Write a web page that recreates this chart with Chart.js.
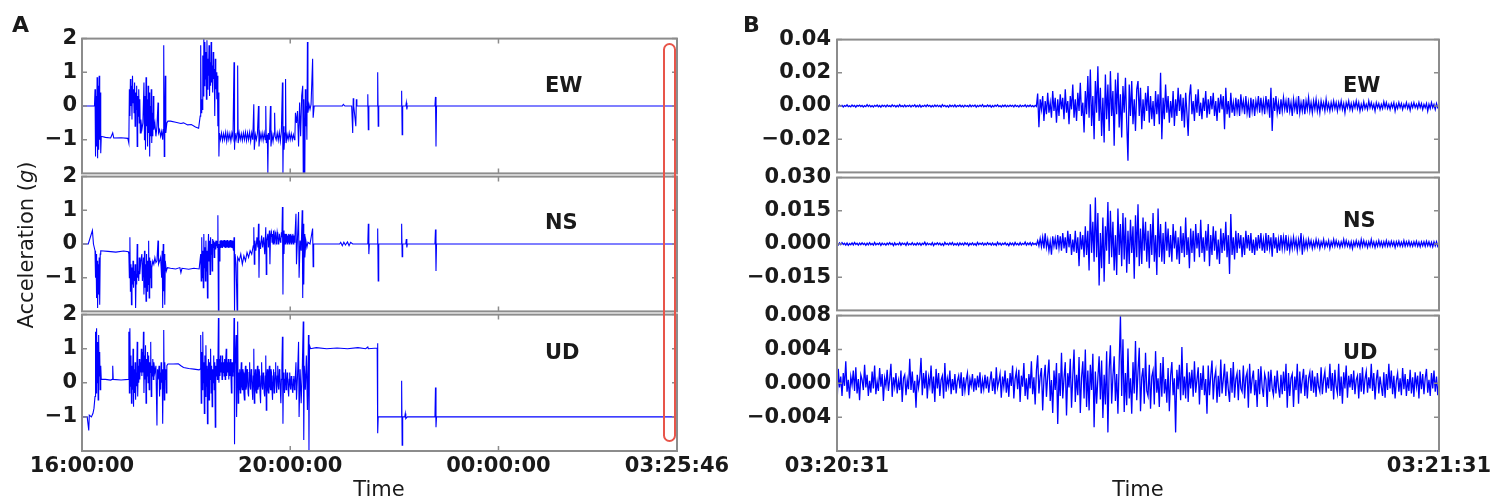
<!DOCTYPE html>
<html lang="en">
<head>
<meta charset="UTF-8">
<title>Acceleration records</title>
<script src="https://cdn.jsdelivr.net/npm/chart.js"></script>
<style>
  body { margin: 0; width: 1500px; height: 501px; background: #fff; position: relative; overflow: hidden;
         font-family: "DejaVu Sans", sans-serif; color: #1a1a1a; }
  canvas { position: absolute; }
  .txt { position: absolute; line-height: 1; white-space: nowrap; }
  .panel { font-size: 22px; font-weight: bold; }
  .comp { font-size: 21px; font-weight: bold; }
  .axis { font-size: 21px; }
  #redbox { position: absolute; left: 663px; top: 43px; width: 13px; height: 399px; box-sizing: border-box;
            border: 2.5px solid #e8554a; border-radius: 7px; }
</style>
</head>
<body>
<canvas id="ewA" width="740" height="170" style="left:0;top:21px"></canvas>
<canvas id="nsA" width="740" height="170" style="left:0;top:159px"></canvas>
<canvas id="udA" width="740" height="204" style="left:0;top:297px"></canvas>
<canvas id="ewB" width="760" height="170" style="left:740px;top:21px"></canvas>
<canvas id="nsB" width="760" height="170" style="left:740px;top:159px"></canvas>
<canvas id="udB" width="760" height="204" style="left:740px;top:297px"></canvas>

<div class="txt panel" style="left:12px;top:14px">A</div>
<div class="txt panel" style="left:743px;top:14px">B</div>
<div class="txt comp" style="left:545px;top:75px">EW</div>
<div class="txt comp" style="left:545px;top:212px">NS</div>
<div class="txt comp" style="left:545px;top:342px">UD</div>
<div class="txt comp" style="left:1343px;top:75px">EW</div>
<div class="txt comp" style="left:1343px;top:210px">NS</div>
<div class="txt comp" style="left:1343px;top:342px">UD</div>
<div class="txt axis" style="left:379px;top:479px;transform:translateX(-50%)">Time</div>
<div class="txt axis" style="left:1138px;top:479px;transform:translateX(-50%)">Time</div>
<div class="txt axis" style="left:26px;top:245px;transform:translate(-50%,-50%) rotate(-90deg)">Acceleration (<i>g</i>)</div>
<div id="redbox"></div>

<script>
// Panel A: hours after 16:00:00, acceleration in g, [time, value]
const aXTicks = [0, 4, 8, 11.4294];
const aXLabels = ['16:00:00', '20:00:00', '00:00:00', '03:25:46'];
const aYTicks = [2, 1, 0, -1];
const aYLabels = ['2', '1', '0', '−1'];

const ewA = [
  [0,0],[0.24,0],[0.25,0.5],[0.26,-1.5],[0.27,0.3],[0.28,-1.2],[0.29,0.85],[0.30,-1.55],[0.31,0.6],[0.32,-1.3],[0.33,0.9],[0.34,-1.0],[0.35,0.4],[0.36,-1.4],[0.37,-0.9],
  [0.45,-0.93],[0.55,-0.95],[0.59,-0.8],[0.61,-0.95],[0.75,-0.94],[0.88,-0.96],
  [0.90,-1.1],[0.91,0.5],[0.92,-0.3],[0.93,0.8],[0.94,0.0],[0.95,0.6],[0.96,-0.4],[0.97,0.9],[0.98,0.1],[0.99,0.5],[1.00,-0.2],[1.01,0.7],[1.02,-0.6],[1.03,0.4],[1.04,-0.1],[1.05,0.6],[1.06,-1.2],[1.07,0.3],[1.08,-0.3],[1.09,0.5],[1.10,-0.5],[1.11,0.2],[1.12,-0.8],[1.13,-0.4],
  [1.15,-0.7],[1.17,-0.5],[1.19,0.7],[1.20,-1.0],[1.21,0.3],[1.22,-1.3],[1.23,0.85],[1.24,-0.6],[1.25,0.2],[1.26,-1.2],[1.27,0.6],[1.28,-0.8],[1.29,0.4],[1.30,-1.5],[1.31,0.0],[1.32,-0.9],[1.33,0.5],[1.34,-1.1],[1.35,-0.2],[1.36,-0.9],[1.37,0.3],[1.38,-0.7],
  [1.40,-0.5],[1.42,-0.9],[1.44,-0.6],[1.46,0.1],[1.47,-0.8],[1.49,-0.7],[1.51,-0.9],[1.53,-0.75],[1.55,-1.0],[1.56,-0.7],[1.57,1.8],[1.58,-1.5],[1.59,-0.6],[1.60,0.9],[1.61,-0.8],[1.63,-0.5],[1.65,-0.45],
  [1.70,-0.45],[1.80,-0.48],[1.90,-0.52],[1.95,-0.5],[2.03,-0.56],[2.10,-0.55],[2.18,-0.62],[2.24,-0.66],
  [2.27,-0.3],[2.28,1.8],[2.29,-0.2],[2.30,0.2],[2.31,-0.1],[2.32,1.5],[2.33,0.3],[2.34,2.0],[2.35,0.6],[2.36,1.9],[2.37,0.8],[2.38,1.6],[2.39,0.2],[2.40,1.95],[2.41,0.5],[2.42,1.4],[2.43,0.9],[2.44,1.8],[2.45,0.3],[2.46,1.3],[2.47,0.6],[2.48,1.9],[2.49,0.7],[2.50,1.2],[2.51,0.4],[2.52,1.6],[2.53,0.8],[2.54,1.1],[2.55,-0.3],[2.56,1.4],[2.57,0.5],[2.58,1.0],[2.59,0.2],[2.60,0.9],[2.61,-0.6],[2.62,0.4],[2.63,-1.5],[2.64,-0.8],
  [2.66,-1.0],[2.68,-0.8],[2.70,-1.02],[2.72,-0.82],[2.74,-1.0],[2.76,-0.78],[2.78,-1.05],[2.80,-0.8],[2.82,-1.0],[2.84,-0.82],[2.86,-1.04],[2.88,-0.8],[2.90,-0.95],[2.92,1.3],[2.93,-1.3],[2.94,-0.8],[2.96,-1.0],[2.98,-0.8],[2.99,1.2],[3.00,-1.1],[3.02,-0.8],[3.04,-1.0],[3.06,-0.82],[3.08,-1.02],[3.10,-0.8],[3.12,-1.0],[3.14,-0.78],[3.16,-1.03],[3.18,-0.8],[3.20,-1.0],[3.22,-0.78],[3.24,-1.05],[3.26,-0.8],[3.28,-1.0],
  [3.30,0.05],[3.31,-1.3],[3.33,-0.85],[3.35,-1.0],[3.37,-0.8],[3.39,0.0],[3.40,-1.2],[3.42,-0.82],[3.44,-1.0],[3.46,-0.8],[3.48,-1.02],[3.50,-0.8],[3.52,-1.0],[3.53,0.0],[3.54,-1.1],[3.56,-0.85],[3.57,-2.0],[3.58,-0.8],[3.60,-1.0],[3.62,0.0],[3.63,-1.2],[3.65,-0.85],[3.67,-1.05],[3.69,-0.8],[3.70,-0.2],[3.71,-0.9],[3.73,-1.0],[3.75,-0.8],[3.77,-1.02],[3.79,-0.78],[3.81,-1.05],[3.83,-0.75],
  [3.85,0.7],[3.86,-2.0],[3.87,-0.6],[3.88,-1.3],[3.90,-0.8],[3.91,0.8],[3.92,-1.1],[3.94,-0.85],[3.96,-1.0],[3.98,-0.8],[4.00,-1.0],[4.02,-0.82],[4.04,-1.0],[4.06,-0.85],[4.08,-1.0],[4.09,-0.9],
  [4.10,-0.2],[4.12,-0.5],[4.14,-0.15],[4.16,-1.2],[4.18,0.1],[4.20,-0.9],[4.22,0.3],[4.24,0.6],[4.25,-2.0],[4.26,0.2],[4.28,-2.0],[4.29,0.5],[4.30,-0.6],[4.31,0.0],[4.32,-1.0],[4.33,1.9],[4.34,-0.2],[4.36,0.05],[4.38,-0.1],[4.40,0.05],[4.43,1.4],[4.44,-0.35],[4.46,0.0],
  [5.00,0.0],[5.02,0.05],[5.05,0.0],[5.18,0.0],[5.20,-0.8],[5.21,0.23],[5.22,0.0],[5.26,-0.6],[5.27,0.2],[5.28,0.0],[5.48,0.0],[5.49,0.35],[5.50,-0.7],[5.51,0.0],[5.67,0.0],[5.68,1.0],[5.69,-0.6],[5.70,0.0],
  [6.13,0.0],[6.14,0.45],[6.15,-0.85],[6.16,0.0],[6.22,0.0],[6.23,0.1],[6.24,-0.1],[6.25,0.0],[6.78,0.0],[6.79,0.27],[6.80,-1.2],[6.81,0.0],[11.43,0.0]
];

const nsA = [
  [0,0],[0.12,0],[0.20,0.4],[0.22,0.0],[0.25,-0.2],[0.26,-1.0],[0.27,-0.3],[0.28,-1.6],[0.29,-0.5],[0.30,-1.9],[0.31,-0.6],[0.32,-1.5],[0.33,-0.4],[0.34,-1.8],[0.35,-0.3],[0.36,-0.2],
  [0.50,-0.22],[0.65,-0.24],[0.80,-0.21],[0.89,-0.23],
  [0.90,-0.3],[0.91,-1.0],[0.92,0.2],[0.93,-1.4],[0.94,-0.6],[0.95,-1.8],[0.96,-0.7],[0.97,-1.2],[0.98,-0.5],[0.99,-1.3],[1.00,-0.8],[1.01,-1.1],[1.02,-0.6],[1.03,-1.9],[1.04,-0.9],[1.05,-1.2],[1.06,0.0],[1.07,-1.0],[1.08,-0.8],[1.09,-1.1],[1.10,-0.4],[1.11,-0.9],[1.13,-0.5],
  [1.15,-0.3],[1.16,-1.1],[1.18,-0.4],[1.19,-1.5],[1.20,-0.2],[1.21,-1.3],[1.22,-0.6],[1.23,-1.7],[1.24,-0.3],[1.25,-1.4],[1.26,-0.5],[1.27,-1.2],[1.28,0.1],[1.29,-1.6],[1.30,-0.4],[1.31,-1.0],[1.32,-0.5],[1.33,-1.3],[1.34,-0.7],
  [1.36,-0.5],[1.38,-0.6],[1.40,-0.4],[1.42,-0.55],[1.44,-0.5],[1.46,0.1],[1.47,-0.6],[1.49,-0.5],[1.51,-0.4],[1.53,-1.0],[1.54,-0.2],[1.55,-1.9],[1.56,0.0],[1.57,-1.4],[1.58,-0.3],[1.59,-1.8],[1.60,-0.5],[1.62,-0.8],[1.64,-0.7],
  [1.70,-0.72],[1.80,-0.74],[1.88,-0.7],[1.90,-0.85],[1.92,-0.72],[2.05,-0.75],[2.15,-0.72],[2.25,-0.74],
  [2.28,-0.3],[2.29,-1.1],[2.30,0.2],[2.31,-1.0],[2.32,-0.2],[2.33,-1.3],[2.34,0.3],[2.35,-0.7],[2.36,-0.1],[2.37,-1.1],[2.38,0.1],[2.39,-0.8],[2.40,-0.2],[2.41,-1.6],[2.42,-0.3],[2.43,0.3],[2.44,-0.5],[2.45,0.1],[2.46,-0.9],[2.47,0.2],[2.48,-0.3],[2.49,0.0],[2.50,-0.8],
  [2.51,0.15],[2.52,-0.1],[2.53,0.1],[2.54,-0.4],[2.55,0.05],[2.56,-0.15],[2.57,0.1],[2.58,-0.05],[2.59,0.1],[2.60,-0.1],[2.61,0.85],[2.62,-2.0],[2.63,0.0],[2.64,-0.5],[2.65,0.1],[2.66,-0.1],[2.67,0.12],[2.68,-0.1],[2.69,0.1],[2.70,-0.12],[2.71,0.1],[2.72,-0.08],[2.73,0.12],[2.74,-0.1],[2.75,0.1],[2.76,-0.12],[2.77,0.1],[2.78,-0.1],[2.79,0.12],[2.80,-0.1],[2.81,0.08],[2.82,-0.12],[2.83,0.1],[2.84,-0.1],[2.85,0.12],[2.86,-0.1],[2.87,0.1],[2.88,-0.12],[2.89,0.1],[2.90,-0.1],[2.91,-0.2],
  [2.92,0.2],[2.93,-2.0],[2.94,-0.3],[2.96,-0.6],[2.98,-2.0],[2.99,-0.4],
  [3.02,-0.5],[3.05,-0.3],[3.08,-0.6],[3.11,-0.35],[3.14,-0.5],[3.17,-0.25],[3.20,-0.4],[3.23,-0.2],[3.26,-0.3],[3.29,-0.05],
  [3.30,0.5],[3.31,-0.6],[3.32,0.1],[3.34,-0.2],[3.36,0.2],[3.38,-0.1],[3.39,0.6],[3.40,-1.0],[3.41,0.1],[3.43,-0.15],[3.45,0.25],[3.47,-0.1],[3.49,0.2],[3.51,-0.3],[3.53,0.5],[3.54,-0.9],[3.55,0.1],[3.57,0.3],[3.58,-0.1],[3.60,0.4],[3.61,-0.6],[3.62,0.2],
  [3.64,0.35],[3.65,0.05],[3.66,0.3],[3.67,0.0],[3.68,0.4],[3.69,0.1],[3.70,0.05],[3.71,0.35],[3.72,0.3],[3.73,0.0],[3.74,0.1],[3.75,0.35],[3.76,0.25],[3.77,0.0],[3.78,0.05],[3.79,0.3],[3.80,0.3],[3.81,0.05],[3.82,0.1],[3.83,0.35],[3.84,0.2],[3.85,1.1],[3.86,-1.5],[3.87,0.4],[3.88,-0.3],[3.89,0.3],
  [3.90,0.0],[3.91,0.3],[3.92,0.05],[3.93,0.3],[3.94,0.0],[3.95,0.25],[3.96,0.05],[3.97,0.3],[3.98,0.0],[3.99,0.28],[4.00,0.05],[4.01,0.3],[4.02,0.0],[4.03,0.25],[4.04,0.05],[4.05,0.3],[4.06,0.0],[4.07,0.25],[4.08,0.05],[4.09,0.2],
  [4.11,0.9],[4.12,-0.6],[4.14,0.2],[4.16,0.95],[4.17,-1.0],[4.19,0.1],[4.21,-0.2],[4.23,1.0],[4.24,-1.6],[4.25,0.6],[4.26,-1.2],[4.27,0.3],[4.28,-0.4],[4.30,0.1],[4.32,-0.1],[4.34,0.05],[4.38,0.0],[4.43,0.46],[4.44,-0.67],[4.45,0.0],
  [4.95,0.0],[4.97,0.05],[5.00,-0.05],[5.03,0.05],[5.06,-0.03],[5.10,0.06],[5.13,-0.05],[5.16,0.05],[5.20,0.0],[5.49,0.0],[5.50,0.6],[5.51,-0.3],[5.52,0.0],[5.67,0.0],[5.68,0.46],[5.69,-1.1],[5.70,0.0],
  [6.13,0.0],[6.14,0.6],[6.15,-0.38],[6.16,0.0],[6.22,0.0],[6.23,0.15],[6.24,-0.1],[6.25,0.0],[6.78,0.0],[6.79,0.43],[6.80,-0.8],[6.81,0.0],[11.43,0.0]
];

const udA = [
  [0,-1.0],[0.10,-1.0],[0.13,-1.4],[0.14,-0.95],[0.18,-1.0],[0.21,-0.9],[0.23,-0.75],[0.25,-0.4],[0.26,1.5],[0.27,-0.3],[0.28,1.6],[0.29,0.0],[0.30,1.2],[0.31,-0.5],[0.32,1.4],[0.33,0.2],[0.34,0.9],[0.35,-0.2],[0.36,0.5],[0.37,0.1],
  [0.45,0.1],[0.55,0.08],[0.58,0.1],[0.59,0.5],[0.60,0.1],[0.75,0.08],[0.89,0.1],
  [0.90,1.5],[0.91,-0.3],[0.92,1.6],[0.93,-0.1],[0.94,0.8],[0.95,-0.6],[0.96,0.5],[0.97,-0.2],[0.98,1.0],[0.99,-0.7],[1.00,0.4],[1.01,-0.3],[1.02,0.6],[1.03,-0.5],[1.04,0.3],[1.05,-0.1],[1.06,1.2],[1.07,-0.4],[1.08,0.5],[1.09,0.0],[1.10,0.7],[1.11,0.1],[1.12,0.6],[1.13,0.3],
  [1.14,1.0],[1.15,0.2],[1.16,0.9],[1.17,0.3],[1.18,1.5],[1.19,-0.3],[1.20,0.8],[1.21,0.1],[1.22,1.1],[1.23,-0.6],[1.24,0.7],[1.25,0.2],[1.26,0.9],[1.27,0.0],[1.28,0.8],[1.29,-0.2],[1.30,0.6],[1.31,0.3],[1.32,1.2],[1.33,-0.4],[1.34,0.5],[1.35,0.2],[1.36,0.7],[1.37,0.1],[1.38,0.6],[1.40,0.3],[1.42,0.5],[1.44,-1.25],[1.45,0.4],[1.46,0.1],
  [1.48,0.5],[1.49,-0.4],[1.50,0.3],[1.51,-0.2],[1.52,0.6],[1.53,0.0],[1.54,0.4],[1.55,-1.2],[1.56,0.3],[1.57,1.55],[1.58,-0.5],[1.59,0.6],[1.60,0.1],[1.61,0.4],[1.62,-0.3],[1.63,0.5],[1.65,0.55],
  [1.75,0.55],[1.85,0.56],[1.90,0.5],[1.95,0.45],[2.05,0.42],[2.15,0.4],[2.25,0.38],
  [2.27,0.4],[2.28,1.4],[2.29,-0.6],[2.30,0.9],[2.31,-0.2],[2.32,1.5],[2.33,0.0],[2.34,0.6],[2.35,-0.9],[2.36,0.8],[2.37,-0.4],[2.38,1.1],[2.39,-0.1],[2.40,0.5],[2.41,-1.2],[2.42,0.3],[2.43,0.7],[2.44,-0.5],[2.45,0.6],[2.46,0.1],[2.47,1.0],[2.48,-0.3],[2.49,0.5],[2.50,-0.7],
  [2.51,0.4],[2.52,0.0],[2.53,0.8],[2.54,-0.2],[2.55,0.6],[2.56,-1.3],[2.57,0.5],[2.58,0.2],[2.59,0.7],[2.60,0.1],[2.61,0.4],[2.62,1.9],[2.63,0.0],
  [2.64,0.7],[2.65,0.2],[2.66,0.8],[2.67,0.3],[2.68,0.6],[2.69,0.1],[2.70,0.8],[2.71,0.3],[2.72,0.6],[2.73,0.2],[2.74,0.7],[2.75,0.1],[2.76,0.6],[2.77,1.0],[2.78,0.2],[2.79,0.6],[2.80,0.3],[2.81,0.7],[2.82,0.1],[2.83,0.6],[2.84,0.2],[2.85,0.7],[2.86,0.3],[2.87,-0.3],[2.88,0.6],[2.89,0.2],[2.90,0.6],[2.91,0.3],[2.92,1.9],[2.93,-1.8],[2.94,0.5],[2.96,1.4],[2.97,-1.0],[2.98,0.3],[2.99,1.8],[3.00,-0.6],
  [3.01,0.3],[3.02,-0.2],[3.03,0.4],[3.04,-0.3],[3.05,0.2],[3.06,0.6],[3.07,-0.1],[3.08,-0.2],[3.09,0.4],[3.10,0.3],[3.11,-0.3],[3.12,-0.5],[3.13,0.2],[3.14,0.5],[3.15,-0.2],[3.16,-0.1],[3.17,0.4],[3.18,0.2],[3.19,-0.3],[3.20,-0.4],[3.21,0.3],[3.22,0.6],[3.23,-0.1],[3.24,-0.2],[3.25,0.4],[3.26,0.3],[3.27,-0.2],[3.28,-0.5],[3.29,0.2],[3.30,1.0],[3.31,-0.6],[3.32,0.1],[3.33,0.4],[3.34,-0.2],[3.35,-0.3],[3.36,0.2],[3.37,0.5],[3.38,-0.2],[3.39,-0.1],[3.40,0.4],[3.41,0.3],[3.42,-0.3],[3.43,-0.6],[3.44,0.2],[3.45,0.6],[3.46,-0.1],[3.47,-0.2],[3.48,0.3],[3.49,0.2],[3.50,-0.3],[3.51,-0.4],[3.52,0.2],
  [3.53,0.8],[3.54,-0.8],[3.55,0.2],[3.56,0.4],[3.57,-0.2],[3.58,-0.3],[3.59,0.3],[3.60,0.5],[3.61,-0.1],[3.62,-0.2],[3.63,0.4],[3.64,0.3],[3.65,-0.2],[3.66,-0.5],[3.67,0.2],[3.68,0.4],[3.69,-0.3],[3.70,-0.1],[3.71,0.3],[3.72,0.6],[3.73,-0.1],[3.74,-0.3],[3.75,0.2],[3.76,0.5],[3.77,-0.1],[3.78,-0.2],[3.79,0.4],[3.80,0.3],[3.81,-0.2],[3.82,-0.6],[3.83,0.1],[3.84,0.5],[3.85,1.35],[3.86,-1.2],[3.87,0.2],[3.88,0.3],[3.89,-0.3],[3.90,0.1],[3.91,0.4],[3.92,-0.2],[3.93,-0.1],[3.94,0.3],[3.95,0.2],[3.96,-0.2],[3.97,-0.4],[3.98,0.1],[3.99,0.3],[4.00,-0.1],[4.01,-0.2],[4.02,0.2],[4.03,0.1],[4.04,-0.2],[4.05,-0.3],[4.06,0.1],[4.07,0.2],[4.08,-0.2],[4.09,-0.1],
  [4.11,0.6],[4.12,-0.5],[4.14,0.2],[4.16,1.2],[4.17,-1.0],[4.19,0.4],[4.21,-0.6],[4.23,0.3],[4.25,1.8],[4.26,-1.68],[4.27,0.5],[4.29,-0.2],[4.31,0.8],[4.33,-0.8],[4.35,1.4],[4.36,-1.97],[4.37,1.1],[4.39,1.0],
  [4.50,1.03],[4.70,1.0],[4.90,1.02],[5.10,1.0],[5.30,1.03],[5.45,1.0],[5.49,1.05],[5.50,1.0],[5.67,1.02],[5.68,1.16],[5.68,-1.48],[5.69,-1.0],
  [6.00,-1.0],[6.13,-1.0],[6.14,0.06],[6.15,-1.83],[6.16,-1.0],[6.20,-1.0],[6.21,-0.9],[6.22,-1.05],[6.25,-1.0],[6.78,-1.0],[6.79,-0.14],[6.80,-1.3],[6.81,-1.0],[11.43,-1.0]
];

// Panel B: 03:20:31 to 03:21:31, evenly sampled (8 per second), acceleration in mg
const bXTicks = [0, 60];
const bXLabels = ['03:20:31', '03:21:31'];
const ewBTicks = [0.04, 0.02, 0, -0.02];
const ewBLabels = ['0.04', '0.02', '0.00', '−0.02'];
const nsBTicks = [0.03, 0.015, 0, -0.015];
const nsBLabels = ['0.030', '0.015', '0.000', '−0.015'];
const udBTicks = [0.008, 0.004, 0, -0.004];
const udBLabels = ['0.008', '0.004', '0.000', '−0.004'];

const ewB = [
  0.2,-0.3,0.5,-0.1,0.4,-0.6,0.3,-0.2,0.7,-0.4,0.1,-0.5,0.6,-0.2,0.3,-0.7,0.4,-0.1,0.5,-0.3,
  0.3,-0.6,0.2,-0.4,0.8,-0.3,0.5,-0.5,0.2,-0.6,0.4,-0.2,0.6,-0.4,0.3,-0.7,0.5,-0.2,0.4,-0.5,
  0.6,-0.3,0.2,-0.5,0.7,-0.2,0.4,-0.6,0.3,-0.4,0.8,-0.3,0.2,-0.5,0.6,-0.4,0.3,-0.2,0.5,-0.6,
  0.4,-0.2,0.7,-0.5,0.3,-0.4,0.6,-0.7,0.2,-0.3,0.5,-0.4,0.7,-0.2,0.4,-0.6,0.3,-0.5,0.6,-0.3,
  0.5,-0.4,0.3,-0.6,0.8,-0.2,0.4,-0.5,0.2,-0.7,0.6,-0.3,0.4,-0.4,0.7,-0.5,0.3,-0.2,0.6,-0.4,
  0.3,-0.6,0.5,-0.3,0.2,-0.5,0.7,-0.4,0.4,-0.2,0.6,-0.7,0.3,-0.4,0.5,-0.3,0.8,-0.5,0.2,-0.4,
  0.6,-0.3,0.4,-0.7,0.3,-0.5,0.5,-0.2,0.7,-0.4,0.2,-0.6,0.4,-0.3,0.6,-0.5,0.3,-0.4,0.5,-0.2,
  0.4,-0.5,0.6,-0.3,0.2,-0.6,0.5,-0.4,0.3,-0.2,0.7,-0.5,0.4,-0.3,0.6,-0.4,0.2,-0.5,0.4,-0.3,
  7.5,-12.8,4,-2,6,-9,3,-5,8,-4,2,-7,9,-3,5,-10,4,-6,7,-2,
  5,-8,10,-4,3,-11,6,-2,13,-7,4,-9,8,-3,14,-6,2,-16,9,-5,
  18,-7,22,-12,6,-20,15,-4,24,-9,11,-18,5,-22,19,-8,13,-15,21,-6,
  9,-24,16,-5,20,-13,7,-19,12,-4,17,-10,-33,13,-6,15,-11,4,-15,10,
  15,-6,11,-14,4,-9,8,-3,12,-10,6,-8,3,-12,9,-5,7,-11,20,-20,
  5,-8,13,-4,6,-10,3,-7,9,-12,4,-6,11,-3,7,-9,5,-13,8,-4,
  -18,6,13,-5,3,-9,7,-4,10,-6,2,-8,5,-3,9,-7,4,-5,6,-2,
  8,-6,3,-9,5,-4,7,-2,6,-14,11,-5,3,-7,8,-4,2,-6,5,-3,
  4,-6,7,-2,3,-5,6,-4,2,-7,5,-3,4,-6,3,-2,6,-4,5,-3,
  3,-5,6,-2,4,-7,11,-15,5,-3,6,-4,2,-5,4,-3,5,-2,3,-4,
  5,-3,2,-6,4,-2,3,-5,6,-4,2,-3,4,-5,3,-2,5,-3,2,-4,
  3,-2,4,-3,2,-4,3,-1.5,2,-3,4,-2,1.5,-3,2,-2,3,-1.5,2,-3,
  2,-1.5,3,-2,1.5,-4,2,-1,3,-2,1.5,-2.5,2,-1,3,-1.5,2,-3,1,-2,
  2.5,-1.5,1,-2,3,-1,2,-1.5,1,-3,2,-1,1.5,-2,1,-1.5,2.5,-1,2,-1.5,
  1,-2,1.5,-1,2,-3,1,-1.5,2,-1,1.5,-2,1,-1,2,-1.5,1,-2.5,1.5,-1,
  2,-1,1,-1.5,2,-1,1.5,-2,1,-1,1.5,-3,1,-1.5,2,-1,1,-2,1.5,-1,
  0
];

const nsB = [
  0.2,-0.4,0.5,-0.3,0.6,-0.2,0.3,-0.5,0.4,-0.6,0.2,-0.3,0.5,-0.4,0.7,-0.2,0.3,-0.5,0.4,-0.3,
  0.5,-0.2,0.3,-0.6,0.4,-0.4,0.6,-0.3,0.2,-0.5,0.7,-0.4,0.3,-0.2,0.5,-0.6,0.4,-0.3,0.2,-0.5,
  0.4,-0.3,0.6,-0.2,0.3,-0.7,0.5,-0.4,0.2,-0.3,0.6,-0.5,0.4,-0.2,0.3,-0.6,0.7,-0.4,0.2,-0.3,
  0.6,-0.4,0.2,-0.5,0.5,-0.3,0.4,-0.6,0.3,-0.2,0.8,-0.5,0.4,-0.3,0.2,-0.4,0.6,-0.7,0.3,-0.2,
  0.5,-0.3,0.4,-0.5,0.2,-0.6,0.7,-0.2,0.3,-0.4,0.5,-0.3,0.6,-0.5,0.2,-0.4,0.4,-0.6,0.5,-0.3,
  0.3,-0.5,0.6,-0.2,0.4,-0.7,0.3,-0.3,0.5,-0.4,0.2,-0.6,0.7,-0.3,0.4,-0.2,0.5,-0.5,0.3,-0.4,
  0.6,-0.2,0.3,-0.5,0.5,-0.4,0.2,-0.6,0.8,-0.3,0.4,-0.5,0.3,-0.2,0.6,-0.4,0.2,-0.7,0.5,-0.3,
  0.4,-0.6,0.7,-0.3,0.2,-0.5,0.6,-0.4,0.3,-0.2,0.9,-0.5,0.4,-0.3,0.6,-0.6,0.5,-0.2,0.3,-0.4,
  1.5,-0.8,2.5,-1.2,3,-2,4.8,-1.5,2,-3,1.2,-4.8,3.5,-1,2.5,-2.5,4,-1.8,3.5,-3,
  5,-2,3,-4,6,-1.5,4.5,-5,2,-3.5,6,-4,3,-10,5.5,-2.5,4,-6,8,-5,
  6,-12,18,-4,10,-8,21,-6,14,-18.7,5,-11,12,-17,8,-3,19,-9,15,-6,
  10,-12,4,-14,16,-5,9,-10,14,-7,12,-13,6,-9,11,-4,8,-15.7,13,-6,
  18,-10,7,-9,12,-3,10,-8,6,-11,9,-5,14,-8,4,-14,16,-6,9,-8,
  5,-9,10,-3,7,-6,4,-8,9,-2,6,-7,3,-9,8,-4,5,-6,12,-5,
  3,-11,7,-4,6,-8,9,-2,5,-6,11,-4,3,-8,6,-3,9,-10,4,-5,
  8,-3,6,-7,2,-9,7,-4,5,-3,10,-6,4,-13.5,13.5,-5,3,-7,6,-4,
  5,-2,4,-6,3,-5,6,-2,4,-3,5,-4,2,-5,3,-3,4,-2,5,-3,
  2,-4,5,-3,4,-2,3,-5.7,5,-2,3,-4,2,-3,4,-2,3,-2,4,-3,
  2,-3,2,-2,3,-1.5,2,-3,2,-1.5,5,-4.8,2,-2,1.5,-2,2,-1,1.5,-2,
  1,-1.5,2,-1,1.5,-2,1,-1,2,-1.5,1,-1,1.5,-2,1,-1,2,-1,1.5,-1,
  1,-1.5,1,-1,2,-1,1.5,-1,1,-1.5,1,-2,1,-1,1.5,-1,1,-1.5,2,-1,
  1.5,-1,1,-1.5,1,-1,2,-1,1,-1.5,1,-1,1.5,-1,1,-1.2,1,-1,1.5,-1,
  1,-1,1.2,-0.8,1,-1.5,1,-0.8,1.2,-1,0.8,-1,1.5,-1,1,-0.8,1.2,-1,0.8,-1,
  1,-0.8,1.2,-1,0.8,-1.2,1,-0.8,1,-1,1.2,-0.8,1,-1,0.8,-1.2,1,-0.8,1,-1,
  0
];

const udB = [
  -2.7,1.7,-0.5,0.8,-1.5,1.2,-0.3,2.6,-1,0.4,-1.8,0.8,-0.2,1.5,-0.9,1.9,-1.2,0.5,-2,1,
  0.4,-0.8,2.2,-0.5,1,-1.5,0.3,-1.1,1.4,-0.6,2.1,-1.3,0.2,-0.9,1.8,-0.4,1.1,-2.1,0.6,-0.3,
  1.6,-0.9,0.5,2.3,-1.6,0.7,-0.4,1.2,-1.2,0.3,-0.8,1.5,-2.2,0.6,1,-1.4,0.4,-0.7,2.9,-0.8,
  1.4,-1.1,0.3,-2.9,1,-0.5,0.6,3,-1.4,1.2,-0.6,1.5,-1.8,0.7,-0.3,2.1,-1.2,0.8,-2.2,1.7,
  -0.6,1.2,-1.5,0.4,0.9,-1.8,2.4,-1,0.6,-0.3,1.5,-1.3,0.5,-0.8,1.1,-1.2,0.3,0.9,-0.6,1.3,
  -1.5,0.7,-0.9,0.4,1.2,-1.4,0.5,-0.3,1.1,-1,0.6,-0.8,0.9,-0.5,1.3,-1.2,0.4,-0.7,1,-0.6,
  0.8,-1.1,0.3,1.4,-0.9,0.6,-1.3,1.9,-0.5,0.2,1.1,-1.7,0.8,-0.4,1.5,-1.1,0.6,-1.6,1.2,-0.3,
  2.1,-1.8,0.5,1.4,-0.7,1.6,-2.2,0.9,-0.4,2.4,-1.5,0.6,-1.9,1.1,-0.6,2.6,-1.3,0.7,-2.5,1.5,
  3.3,-1.2,0.8,1.8,-3.2,0.5,2.2,-1.6,0.9,2.8,-2.1,0.4,-3.5,1.5,-0.8,2.4,-4.8,1.2,-1.5,3.6,
  -1.8,0.6,2.5,-3.8,1.2,-0.5,2.9,-2.9,0.8,4,-2.2,1,-1.4,3.1,-3.5,0.7,2.6,-1.8,4,-2.8,
  1.5,-3.2,2.2,-0.8,3.5,-5.2,1.4,-2.4,0.6,3.2,-1.9,2.7,-4.1,1,-2.5,3.8,-5.8,1.6,4.5,-2.4,
  0.8,3.2,-2.1,1.1,-3.6,2.4,8,-1.5,5.2,-3.4,1.2,-2.6,4.1,-1.8,0.6,-3.6,2.5,-1.2,5,-2,
  1.4,4.2,-3.3,0.7,1.8,-2.4,3.6,-0.9,-1.5,2.2,-3,0.8,1.5,-2.5,3.8,-1.1,0.6,-2.8,2.4,-1.6,
  3.1,-1.2,0.5,-2.3,1.8,-3.3,0.9,2.5,-1.4,0.6,-5.8,1.6,-0.7,2.2,-2,4.3,-1.4,0.8,-1.8,2.4,
  -2.2,1.3,-0.6,1.6,-1.6,2.6,-1.1,0.4,1.9,-2.5,1.2,-0.8,2.1,-1.4,0.5,-3.6,2.1,-1.4,0.9,2.7,
  -1.9,0.6,1.5,-2.3,0.9,-1.6,2.8,-1.2,0.4,2.3,-1.5,1.4,-0.7,-2.2,1.8,-1.1,2.5,-1.7,0.5,1.2,
  -2,1.6,-0.6,-1,2.1,-1.8,0.7,1.3,-2.9,2.3,-1.2,0.5,1.5,-1.4,0.4,-2.8,1.7,-1.3,2,-0.5,
  -1.6,1.1,0.4,-2.8,1.4,-1,1.6,-0.6,-1.4,0.9,-1.2,1.5,-0.5,-1.7,1,-1.3,1.4,-0.9,2.3,-2.9,
  1.2,-1.5,0.6,1.1,-2.8,0.8,-0.8,2.3,-2.4,1.4,-1.2,0.4,1.7,-1.5,1,-1.8,0.6,1.3,-0.9,1.5,
  -1.1,0.8,-1.6,1.2,-0.4,-1,1.9,-1.3,0.5,1.4,-1.1,0.7,-0.6,2.3,-0.9,1.2,-1.9,1.6,-0.4,-1.2,
  2.3,-1.5,0.8,-2.4,1.3,-0.6,2.1,-1.7,0.9,-0.5,1.1,-0.8,1.5,-1.3,0.4,0.9,-1.8,1.2,-1,1.9,
  -1.3,0.5,1.4,-1.1,0.7,-0.6,2.3,-0.9,1.2,-1.9,0.4,1.6,-1.2,0.8,-0.4,-1.5,1.3,-1.7,1.1,-0.8,
  2.3,-0.6,1.5,-1.3,0.9,-1.8,0.3,1.2,-1,0.6,-1.4,1.8,-0.7,1.1,-1.5,0.5,-0.9,1.6,-1.2,0.7,
  -1.6,1.3,-0.4,0.9,-1.8,1.4,-0.7,1.1,-1.3,0.6,1.7,-1.1,0.4,-1.5,1.2,-0.6,1.5,-1,0.8,-1.4,
  0.2
];

Chart.defaults.font.family = '"DejaVu Sans", sans-serif';

const frameColor = '#8c8c8c';
const tickFont = { size: 21, weight: 'bold' };

// axes frame with inward ticks on all four sides, drawn over the trace
const framePlugin = {
  id: 'frame',
  afterDatasetsDraw(chart) {
    const { ctx, chartArea: a, scales } = chart;
    ctx.save();
    ctx.strokeStyle = frameColor;
    ctx.lineWidth = 1.5;
    ctx.beginPath();
    scales.y.ticks.forEach(t => {
      const y = scales.y.getPixelForValue(t.value);
      ctx.moveTo(a.left, y); ctx.lineTo(a.left + 5, y);
      ctx.moveTo(a.right, y); ctx.lineTo(a.right - 5, y);
    });
    scales.x.ticks.forEach(t => {
      const x = scales.x.getPixelForValue(t.value);
      ctx.moveTo(x, a.top); ctx.lineTo(x, a.top + 5);
      ctx.moveTo(x, a.bottom); ctx.lineTo(x, a.bottom - 5);
    });
    ctx.stroke();
    ctx.lineWidth = 2;
    ctx.strokeRect(a.left, a.top, a.right - a.left, a.bottom - a.top);
    ctx.restore();
  }
};

function makeChart(id, points, cfg) {
  new Chart(document.getElementById(id), {
    type: 'line',
    data: {
      datasets: [{
        data: points,
        borderColor: '#0000ff',
        borderWidth: cfg.lineWidth,
        pointRadius: 0,
        fill: false,
        tension: 0
      }]
    },
    options: {
      responsive: false,
      animation: false,
      events: [],
      layout: { padding: { top: 16, bottom: cfg.showX ? 0 : 16, left: 0, right: cfg.padRight } },
      plugins: { legend: { display: false }, tooltip: { enabled: false } },
      scales: {
        x: {
          type: 'linear',
          min: cfg.xMin,
          max: cfg.xMax,
          display: cfg.showX,
          afterBuildTicks: s => { s.ticks = cfg.xTicks.map(v => ({ value: v })); },
          afterFit: s => { s.height = cfg.showX ? 50 : 0; },
          grid: { display: false, drawTicks: false },
          border: { display: false },
          ticks: {
            autoSkip: false, maxRotation: 0, padding: 3,
            font: tickFont, color: '#1a1a1a',
            callback: (v, i) => cfg.xLabels[i]
          }
        },
        y: {
          min: cfg.yMin,
          max: cfg.yMax,
          afterBuildTicks: s => { s.ticks = cfg.yTicks.map(v => ({ value: v })); },
          afterFit: s => { s.width = cfg.yWidth; },
          grid: { display: false, drawTicks: false },
          border: { display: false },
          ticks: {
            padding: cfg.yPad,
            font: tickFont, color: '#1a1a1a',
            callback: (v, i) => cfg.yLabels[i]
          }
        }
      }
    },
    plugins: [framePlugin]
  });
}

const toXY = arr => arr.map(p => ({ x: p[0], y: p[1] }));
const toXYb = arr => arr.map((v, i) => ({ x: i * 60 / (arr.length - 1), y: v / 1000 }));

const baseA = { xMin: 0, xMax: 11.4294, xTicks: aXTicks, xLabels: aXLabels, yMin: -2, yMax: 2,
                yTicks: aYTicks, yLabels: aYLabels, yWidth: 82, yPad: 5, padRight: 63, lineWidth: 1.1 };
makeChart('ewA', toXY(ewA), { ...baseA, showX: false });
makeChart('nsA', toXY(nsA), { ...baseA, showX: false });
makeChart('udA', toXY(udA), { ...baseA, showX: true });

const baseB = { xMin: 0, xMax: 60, xTicks: bXTicks, xLabels: bXLabels, yWidth: 97, yPad: 6, padRight: 61, lineWidth: 1.3 };
makeChart('ewB', toXYb(ewB), { ...baseB, showX: false, yMin: -0.04, yMax: 0.04, yTicks: ewBTicks, yLabels: ewBLabels });
makeChart('nsB', toXYb(nsB), { ...baseB, showX: false, yMin: -0.03, yMax: 0.03, yTicks: nsBTicks, yLabels: nsBLabels });
makeChart('udB', toXYb(udB), { ...baseB, showX: true, yMin: -0.008, yMax: 0.008, yTicks: udBTicks, yLabels: udBLabels });
</script>
</body>
</html>
